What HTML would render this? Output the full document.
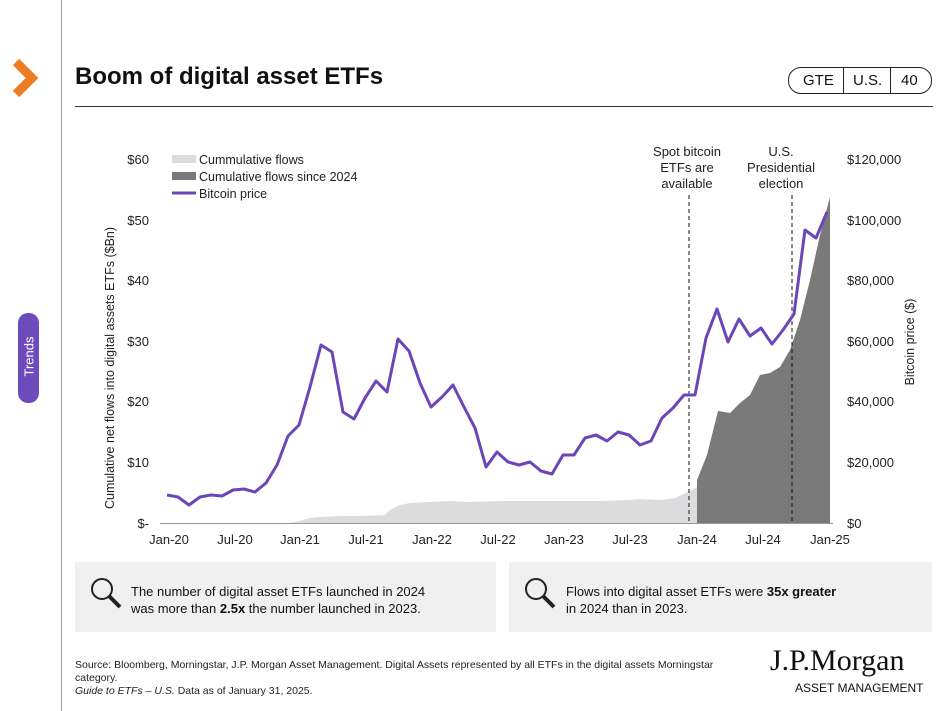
<!DOCTYPE html>
<html><head><meta charset="utf-8">
<style>
body{margin:0;background:#fff;width:950px;height:711px;overflow:hidden;font-family:"Liberation Sans",sans-serif;position:relative}
.abs{position:absolute}
</style></head><body>
<div class="abs" style="left:61px;top:0;width:1px;height:711px;background:#999"></div>
<svg class="abs" style="left:10px;top:58px" width="34" height="40"><polyline points="6,4 22,20 6,36" fill="none" stroke="#f07c22" stroke-width="9"/></svg>
<div class="abs" style="left:18px;top:313px;width:21px;height:90px;background:#6e4bbd;border-radius:10px"></div>
<div class="abs" style="left:-8px;top:349px;width:74px;text-align:center;transform:rotate(-90deg);color:#fff;font-size:13px">Trends</div>
<div class="abs" style="left:75px;top:63px;font-size:24px;font-weight:bold;color:#111">Boom of digital asset ETFs</div>
<div class="abs" style="left:75px;top:106px;width:858px;height:1px;background:#333"></div>
<div class="abs" style="left:788px;top:67px;width:142px;height:25px;border:1px solid #222;border-radius:13px;font-size:15px;color:#111">
<span class="abs" style="left:14px;top:4px">GTE</span>
<span class="abs" style="left:54px;top:0;width:1px;height:25px;background:#222"></span>
<span class="abs" style="left:64px;top:4px">U.S.</span>
<span class="abs" style="left:101px;top:0;width:1px;height:25px;background:#222"></span>
<span class="abs" style="left:112px;top:4px">40</span>
</div>
<svg class="abs" style="left:0;top:0" width="950" height="560" font-family="Liberation Sans, sans-serif" font-size="13" fill="#222">
<g text-anchor="end">
<text x="149" y="164">$60</text><text x="149" y="225">$50</text><text x="149" y="285">$40</text><text x="149" y="346">$30</text><text x="149" y="406">$20</text><text x="149" y="467">$10</text><text x="149" y="528">$-</text>
</g>
<g text-anchor="start">
<text x="847" y="164">$120,000</text><text x="847" y="225">$100,000</text><text x="847" y="285">$80,000</text><text x="847" y="346">$60,000</text><text x="847" y="406">$40,000</text><text x="847" y="467">$20,000</text><text x="847" y="528">$0</text>
</g>
<text transform="translate(114,368) rotate(-90)" text-anchor="middle" font-size="12.5">Cumulative net flows into digital assets ETFs ($Bn)</text>
<text transform="translate(914,342) rotate(-90)" text-anchor="middle" font-size="12.5">Bitcoin price ($)</text>
<g text-anchor="middle">
<text x="169" y="544">Jan-20</text><text x="235" y="544">Jul-20</text><text x="300" y="544">Jan-21</text><text x="366" y="544">Jul-21</text><text x="432" y="544">Jan-22</text><text x="498" y="544">Jul-22</text><text x="564" y="544">Jan-23</text><text x="630" y="544">Jul-23</text><text x="697" y="544">Jan-24</text><text x="763" y="544">Jul-24</text><text x="830" y="544">Jan-25</text>
</g>
<polygon fill="#dcdcde" points="167,523 290,523 300,521 310,518 320,517 340,516 360,516 385,515 390,510 400,505 410,503 430,502 450,501 470,502 500,501 540,501 600,501 630,500 640,499 660,500 675,498 690,491 697,487 697,523"/>
<polygon fill="#7a7a7a" points="697,523 697,480 707,455 718,411 730,413 740,403 750,395 760,375 770,373 780,367 790,350 800,320 810,280 820,235 830,197 830,523"/>
<line x1="160" y1="523.5" x2="833" y2="523.5" stroke="#999"/>
<line x1="689" y1="195" x2="689" y2="523" stroke="#111" stroke-dasharray="4,3"/>
<line x1="792" y1="195" x2="792" y2="523" stroke="#111" stroke-dasharray="4,3"/>
<polyline fill="none" stroke="#6c45b9" stroke-width="3" stroke-linejoin="round" points="167,495 178,497 189,505 200,497 211,495 222,496 233,490 244,489 255,492 266,483 277,465 288,436 299,425 310,387 321,345 332,352 343,412 354,419 365,398 376,381 387,392 398,339 409,351 420,383 431,407 442,397 453,385 464,407 475,428 486,467 497,452 508,462 519,465 530,462 541,471 552,474 563,455 574,455 585,438 596,435 607,441 618,432 629,435 640,445 651,441 662,418 673,408 684,395 695,395 706,338 717,309 728,342 739,319 750,336 761,328 772,344 783,330 794,314 805,230 816,238 827,212"/>
<g text-anchor="middle">
<text x="687" y="156">Spot bitcoin</text><text x="687" y="172">ETFs are</text><text x="687" y="188">available</text>
<text x="781" y="156">U.S.</text><text x="781" y="172">Presidential</text><text x="781" y="188">election</text>
</g>
<rect x="172" y="155" width="24" height="8" fill="#dcdcde"/>
<rect x="172" y="172" width="24" height="8" fill="#7a7a7a"/>
<line x1="172" y1="193" x2="196" y2="193" stroke="#6c45b9" stroke-width="3"/>
<text x="199" y="164" font-size="12.5">Cummulative flows</text>
<text x="199" y="181" font-size="12.5">Cumulative flows since 2024</text>
<text x="199" y="198" font-size="12.5">Bitcoin price</text>
</svg>
<div class="abs" style="left:75px;top:562px;width:421px;height:70px;background:#f0f0f0"></div>
<div class="abs" style="left:509px;top:562px;width:423px;height:70px;background:#f0f0f0"></div>
<svg class="abs" style="left:88px;top:575px" width="36" height="36"><circle cx="14" cy="14" r="10" fill="none" stroke="#222" stroke-width="2"/><line x1="21" y1="21" x2="32" y2="32" stroke="#222" stroke-width="4"/></svg>
<svg class="abs" style="left:522px;top:575px" width="36" height="36"><circle cx="14" cy="14" r="10" fill="none" stroke="#222" stroke-width="2"/><line x1="21" y1="21" x2="32" y2="32" stroke="#222" stroke-width="4"/></svg>
<div class="abs" style="left:131px;top:583px;font-size:13px;line-height:17px;color:#111">The number of digital asset ETFs launched in 2024<br>was more than <b>2.5x</b> the number launched in 2023.</div>
<div class="abs" style="left:566px;top:583px;font-size:13px;line-height:17px;color:#111">Flows into digital asset ETFs were <b>35x greater</b><br>in 2024 than in 2023.</div>
<div class="abs" style="left:75px;top:659px;font-size:10.5px;line-height:13px;color:#222;width:680px">Source: Bloomberg, Morningstar, J.P. Morgan Asset Management. Digital Assets represented by all ETFs in the digital assets Morningstar category.<br><i>Guide to ETFs – U.S.</i> Data as of January 31, 2025.</div>
<div class="abs" style="left:770px;top:644px;font-family:'Liberation Serif',serif;font-size:30px;color:#111">J.P.Morgan</div>
<div class="abs" style="left:795px;top:681px;font-size:12px;letter-spacing:0px;color:#111">ASSET MANAGEMENT</div>
</body></html>
